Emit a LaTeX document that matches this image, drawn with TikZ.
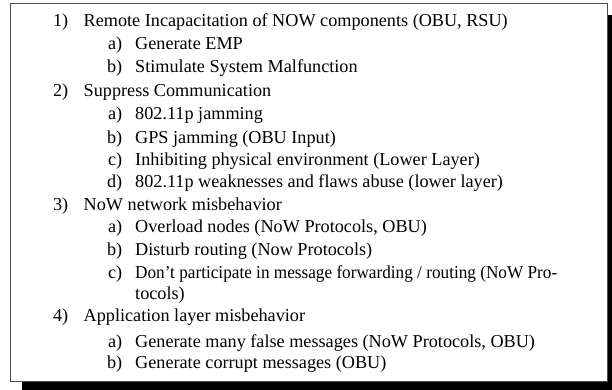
\documentclass[tikz,border=0pt]{standalone}
\usepackage{fontspec}
\usepackage{graphicx}
\setmainfont{Liberation Serif}
\begin{document}
\begin{tikzpicture}[x=1pt,y=-1pt,
  lbl/.style={anchor=base east,inner sep=0pt,font=\fontsize{18.2}{22}\selectfont},
  txt/.style={anchor=base west,inner sep=0pt,font=\fontsize{18.2}{22}\selectfont},
  frame/.style={draw=black!70,line width=1pt,fill=white},
  shadowbox/.style={fill=black,draw=none}]
\useasboundingbox (0,0) rectangle (612,390);
\fill[shadowbox] (21.5,15) rectangle (618,392);
\draw[frame] (10.5,4) rectangle (607,381);
% level 1 x positions
\def\la{68.5}\def\ta{83.5}\def\lb{122.5}\def\tb{135}
\node[lbl] (n1) at (\la,26.5) {1)};
\node[txt] (t1) at (\ta,26.5) {Remote Incapacitation of NOW components (OBU, RSU)};
\node[lbl] (n1a) at (\lb,50) {a)};
\node[txt] (t1a) at (\tb,50) {Generate EMP};
\node[lbl] (n1b) at (\lb,72.5) {b)};
\node[txt] (t1b) at (\tb,72.5) {Stimulate System Malfunction};
\node[lbl] (n2) at (\la,97) {2)};
\node[txt] (t2) at (\ta,97) {Suppress Communication};
\node[lbl] (n2a) at (\lb,120) {a)};
\node[txt] (t2a) at (\tb,120) {802.11p jamming};
\node[lbl] (n2b) at (\lb,143) {b)};
\node[txt] (t2b) at (\tb,143) {GPS jamming (OBU Input)};
\node[lbl] (n2c) at (\lb,165) {c)};
\node[txt] (t2c) at (\tb,165) {Inhibiting physical environment (Lower Layer)};
\node[lbl] (n2d) at (\lb,187) {d)};
\node[txt] (t2d) at (\tb,187) {802.11p weaknesses and flaws abuse (lower layer)};
\node[lbl] (n3) at (\la,210) {3)};
\node[txt] (t3) at (\ta,210) {NoW network misbehavior};
\node[lbl] (n3a) at (\lb,232.5) {a)};
\node[txt] (t3a) at (\tb,232.5) {Overload nodes (NoW Protocols, OBU)};
\node[lbl] (n3b) at (\lb,255.5) {b)};
\node[txt] (t3b) at (\tb,255.5) {Disturb routing (Now Protocols)};
\node[lbl] (n3c) at (\lb,278) {c)};
\node[txt] (t3c) at (\tb,278) {\resizebox{422pt}{\height}{Don’t participate in message forwarding / routing (NoW Pro-}};
\node[txt] (t3c2) at (\tb,299) {tocols)};
\node[lbl] (n4) at (\la,321.5) {4)};
\node[txt] (t4) at (\ta,321.5) {Application layer misbehavior};
\node[lbl] (n4a) at (\lb,347) {a)};
\node[txt] (t4a) at (\tb,347) {Generate many false messages (NoW Protocols, OBU)};
\node[lbl] (n4b) at (\lb,368) {b)};
\node[txt] (t4b) at (\tb,368) {Generate corrupt messages (OBU)};
\end{tikzpicture}
\end{document}
